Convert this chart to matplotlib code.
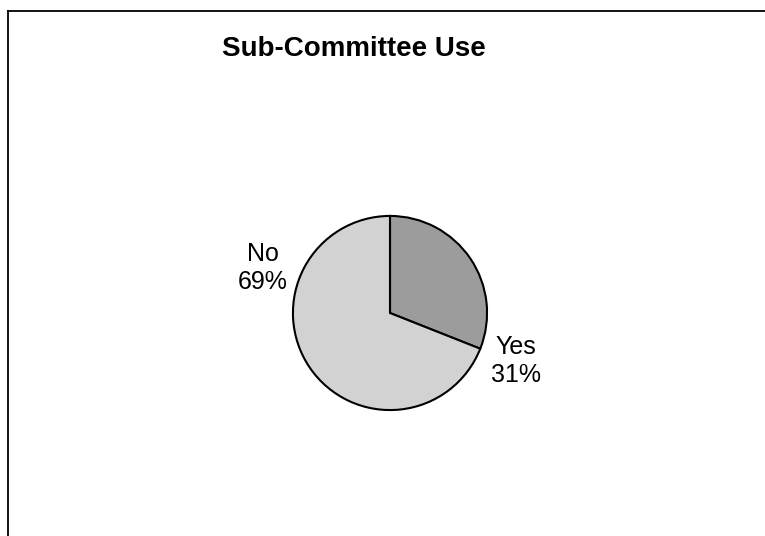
import matplotlib.pyplot as plt
from matplotlib.lines import Line2D

W, H = 765, 536

labels = ["Yes", "No"]
shares = [31, 69]
colors = ["#9c9c9c", "#d2d2d2"]

# label anchor positions in pixels (x, y from top)
label_pos = {"Yes": (516, 361), "No": (263, 268)}

fig = plt.figure(figsize=(W / 100, H / 100), dpi=100)
fig.patch.set_facecolor("white")

# pie centred at (390, 313) px with radius 99 px
cx, cy, r = 390, 313, 99
ax = fig.add_axes([(cx - r) / W, 1 - (cy + r) / H, 2 * r / W, 2 * r / H])
ax.pie(shares, colors=colors, startangle=90, counterclock=False,
       radius=1, wedgeprops=dict(edgecolor="black", linewidth=1.5))
ax.set_xlim(-1.02, 1.02)
ax.set_ylim(-1.02, 1.02)
ax.set_aspect("equal")
ax.axis("off")

for name, val in zip(labels, shares):
    x, y = label_pos[name]
    fig.text(x / W, 1 - y / H, f"{name}\n{val}%", ha="center", va="center",
             multialignment="center", fontsize=18, family="Liberation Sans",
             linespacing=1.2)

fig.text(354 / W, 1 - 49 / H, "Sub-Committee Use", ha="center", va="center",
         fontsize=20, fontweight="bold", family="Liberation Sans")

# chart frame: top and left edges
fig.add_artist(Line2D([8 / W, 1], [1 - 11 / H, 1 - 11 / H], color="black",
                      linewidth=1.3, transform=fig.transFigure))
fig.add_artist(Line2D([8 / W, 8 / W], [0, 1 - 11 / H], color="black",
                      linewidth=1.3, transform=fig.transFigure))

fig.savefig("out.png", dpi=100)
